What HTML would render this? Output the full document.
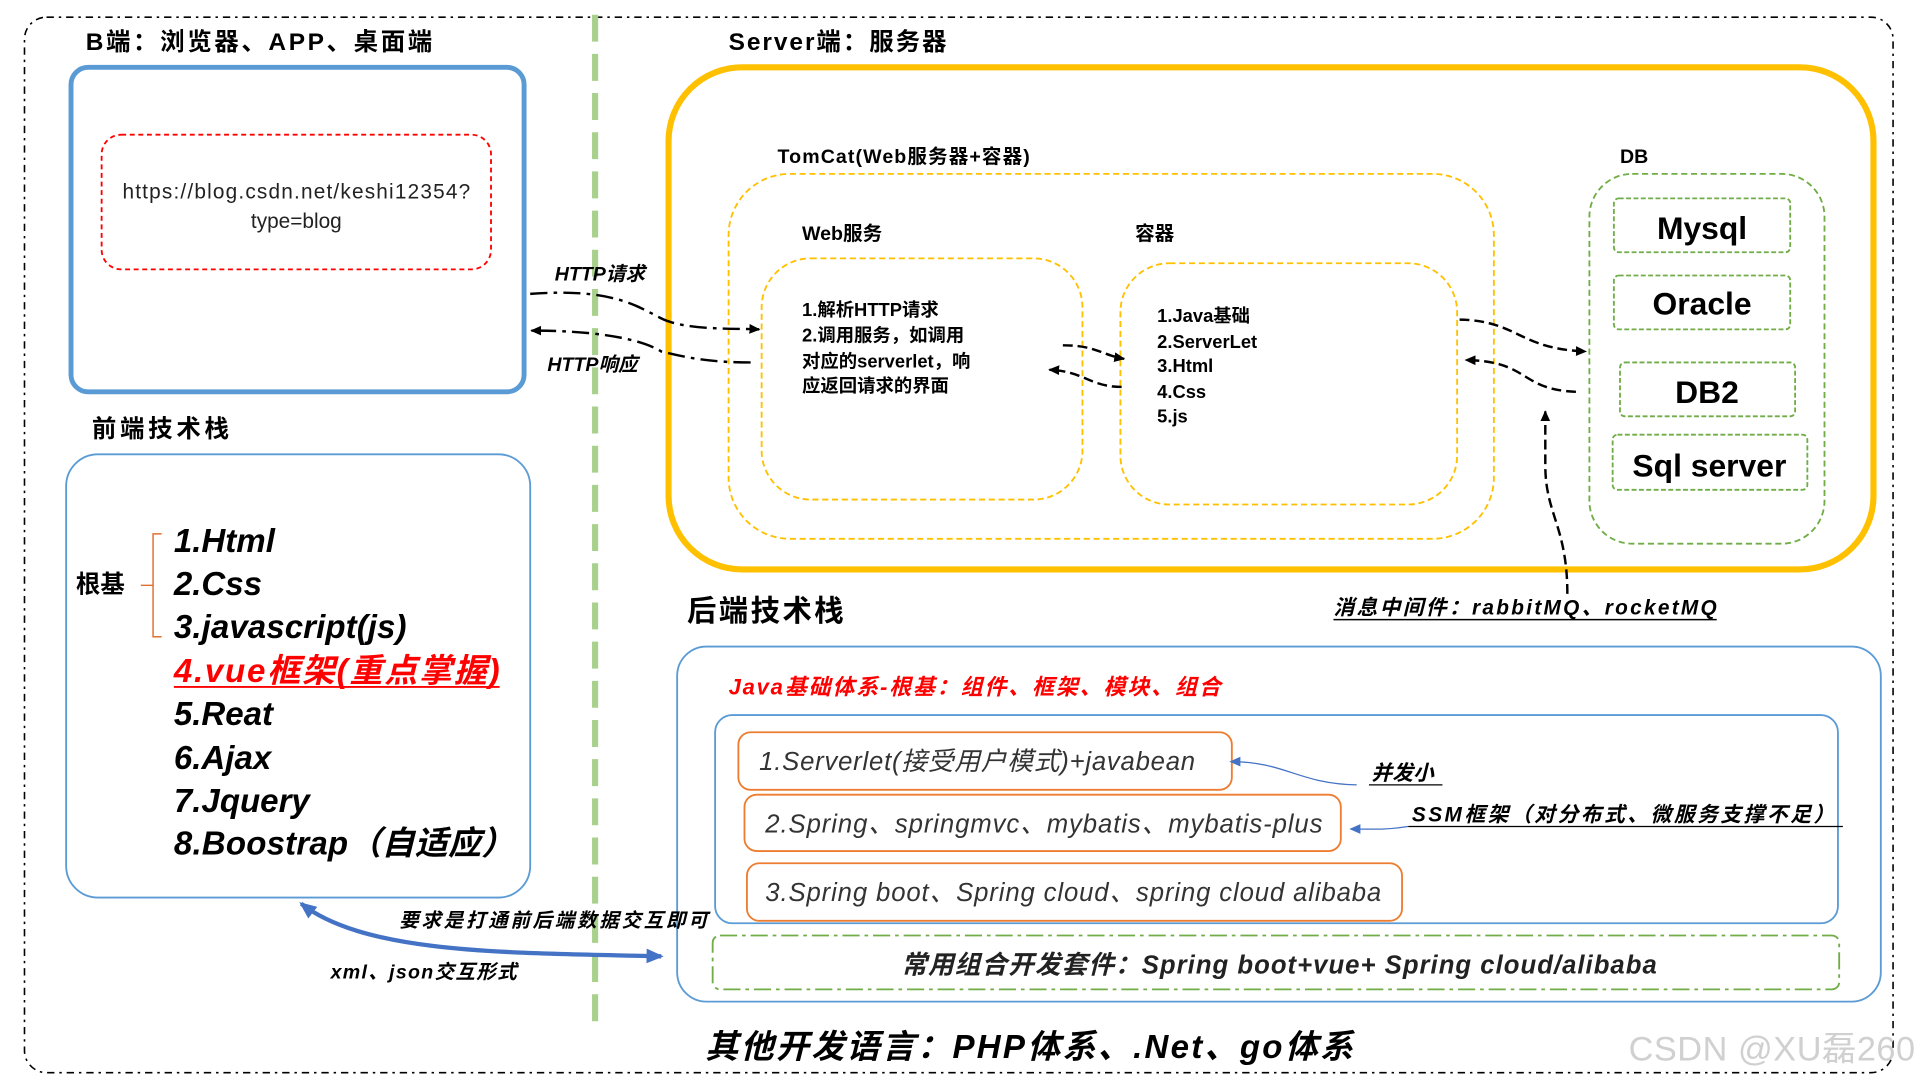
<!DOCTYPE html>
<html><head><meta charset="utf-8"><style>
html,body{margin:0;padding:0;background:#fff;width:1920px;height:1080px;overflow:hidden}
svg{display:block}
text{font-family:"Liberation Sans","Noto Sans CJK SC",sans-serif;}
.b{font-weight:bold}
.i{font-style:italic}
</style></head><body>
<svg width="1920" height="1080" viewBox="0 0 1568 882" xmlns="http://www.w3.org/2000/svg">
<defs>
<marker id="ah" markerWidth="10" markerHeight="10" refX="8" refY="5" orient="auto" markerUnits="userSpaceOnUse"><path d="M0,1 L9,5 L0,9 z" fill="#000"/></marker>
<marker id="ahb" markerWidth="10" markerHeight="10" refX="8" refY="5" orient="auto" markerUnits="userSpaceOnUse"><path d="M0,1 L9,5 L0,9 z" fill="#4472c4"/></marker>
<marker id="ahB" markerWidth="16" markerHeight="16" refX="12" refY="8" orient="auto-start-reverse" markerUnits="userSpaceOnUse"><path d="M0,2 L14,8 L0,14 z" fill="#4472c4"/></marker>
</defs>
<rect x="20" y="14" width="1526" height="862" rx="18" fill="none" stroke="#000" stroke-width="1.3" stroke-dasharray="6 4 2 4"/>
<line x1="486" y1="12" x2="486" y2="840" stroke="#a9d18e" stroke-width="5" stroke-dasharray="22 10"/>

<text x="70" y="41" font-size="20" class="b" textLength="283">B端：浏览器、APP、桌面端</text>
<text x="595" y="41" font-size="20" class="b" textLength="178">Server端：服务器</text>

<rect x="58" y="55" width="370" height="265" rx="14" fill="none" stroke="#5b9bd5" stroke-width="4"/>
<rect x="83" y="110" width="318" height="110" rx="16" fill="none" stroke="#ff0000" stroke-width="1.5" stroke-dasharray="4 3"/>
<text x="242" y="162" font-size="17" text-anchor="middle" fill="#222" textLength="284">https://blog.csdn.net/keshi12354?</text>
<text x="242" y="186" font-size="17" text-anchor="middle" fill="#222">type=blog</text>

<rect x="546" y="55" width="984" height="410" rx="60" fill="none" stroke="#ffc000" stroke-width="5"/>
<text x="635" y="133" font-size="16" class="b" textLength="206">TomCat(Web服务器+容器)</text>
<rect x="595" y="142" width="625" height="298" rx="50" fill="none" stroke="#ffc000" stroke-width="1.5" stroke-dasharray="5 3"/>
<text x="655" y="196" font-size="16" class="b">Web服务</text>
<text x="927" y="196" font-size="16" class="b">容器</text>
<rect x="622" y="211" width="262" height="197" rx="40" fill="none" stroke="#ffc000" stroke-width="1.5" stroke-dasharray="5 3"/>
<g font-size="15" class="b">
<text x="655" y="258">1.解析HTTP请求</text>
<text x="655" y="279">2.调用服务，如调用</text>
<text x="655" y="300">对应的serverlet，响</text>
<text x="655" y="320">应返回请求的界面</text>
</g>
<rect x="915" y="215" width="275" height="197" rx="40" fill="none" stroke="#ffc000" stroke-width="1.5" stroke-dasharray="5 3"/>
<g font-size="15" class="b">
<text x="945" y="263">1.Java基础</text>
<text x="945" y="284">2.ServerLet</text>
<text x="945" y="304">3.Html</text>
<text x="945" y="325">4.Css</text>
<text x="945" y="345">5.js</text>
</g>
<text x="1323" y="133" font-size="16" class="b">DB</text>
<rect x="1298" y="142" width="192" height="302" rx="35" fill="none" stroke="#70ad47" stroke-width="1.5" stroke-dasharray="5 3"/>
<g fill="none" stroke="#70ad47" stroke-width="1.5" stroke-dasharray="4 2">
<rect x="1318" y="162" width="144" height="44" rx="4"/>
<rect x="1318" y="225" width="144" height="44" rx="4"/>
<rect x="1323" y="296" width="143" height="44" rx="4"/>
<rect x="1317" y="355" width="159" height="45" rx="4"/>
</g>
<g font-size="26" text-anchor="middle" class="b">
<text x="1390" y="195">Mysql</text>
<text x="1390" y="257">Oracle</text>
<text x="1394" y="329">DB2</text>
<text x="1396" y="389">Sql server</text>
</g>

<text x="453" y="229" font-size="16" class="i b">HTTP请求</text>
<text x="447" y="303" font-size="16" class="i b">HTTP响应</text>
<path d="M433,240 C500,235 520,250 540,260 C560,270 600,268 620,269" fill="none" stroke="#000" stroke-width="2" stroke-dasharray="14 5 3 5" marker-end="url(#ah)"/>
<path d="M613,296 C580,296 560,292 540,287 C520,275 480,270 434,270" fill="none" stroke="#000" stroke-width="2" stroke-dasharray="14 5 3 5" marker-end="url(#ah)"/>
<path d="M868,282 C895,282 900,290 918,293" fill="none" stroke="#000" stroke-width="2" stroke-dasharray="8 4" marker-end="url(#ah)"/>
<path d="M916,316 C890,316 885,303 857,302" fill="none" stroke="#000" stroke-width="2" stroke-dasharray="8 4" marker-end="url(#ah)"/>
<path d="M1192,261 C1240,262 1240,285 1295,287" fill="none" stroke="#000" stroke-width="2" stroke-dasharray="8 4" marker-end="url(#ah)"/>
<path d="M1287,320 C1240,318 1250,295 1197,294" fill="none" stroke="#000" stroke-width="2" stroke-dasharray="8 4" marker-end="url(#ah)"/>
<path d="M1280,485 C1280,430 1262,420 1262,380 L1262,336" fill="none" stroke="#000" stroke-width="2" stroke-dasharray="8 4" marker-end="url(#ah)"/>
<text x="1089" y="502" font-size="17" class="i b" textLength="313">消息中间件：rabbitMQ、rocketMQ</text>
<line x1="1089" y1="506" x2="1402" y2="506" stroke="#000" stroke-width="1.2"/>

<text x="75" y="357" font-size="20" class="b" textLength="112">前端技术栈</text>
<rect x="54" y="371" width="379" height="362" rx="26" fill="none" stroke="#5b9bd5" stroke-width="1.5"/>
<text x="62" y="484" font-size="20" class="b">根基</text>
<path d="M132,436 L125,436 L125,520 L132,520 M125,478 L115,478" fill="none" stroke="#e07030" stroke-width="1.2"/>
<g font-size="27" class="i b">
<text x="142" y="451">1.Html</text>
<text x="142" y="486">2.Css</text>
<text x="142" y="521" textLength="190">3.javascript(js)</text>
<text x="142" y="557" fill="#ff0000" textLength="266">4.vue框架(重点掌握)</text>
<text x="142" y="592">5.Reat</text>
<text x="142" y="628">6.Ajax</text>
<text x="142" y="663">7.Jquery</text>
<text x="142" y="698" textLength="278">8.Boostrap（自适应）</text>
</g>
<line x1="142" y1="561" x2="408" y2="561" stroke="#ff0000" stroke-width="1.5"/>

<text x="561" y="507" font-size="24" class="b" textLength="128">后端技术栈</text>
<rect x="553" y="528" width="983" height="290" rx="24" fill="none" stroke="#5b9bd5" stroke-width="1.5"/>
<text x="595" y="567" font-size="18" class="i b" fill="#ff0000" textLength="402">Java基础体系-根基：组件、框架、模块、组合</text>
<rect x="584" y="584" width="917" height="170" rx="14" fill="none" stroke="#5b9bd5" stroke-width="1.5"/>
<g fill="none" stroke="#ed7d31" stroke-width="1.5">
<rect x="603" y="598" width="403" height="47" rx="10"/>
<rect x="608" y="649" width="487" height="46" rx="10"/>
<rect x="610" y="705" width="535" height="47" rx="10"/>
</g>
<g font-size="21" class="i" fill="#333">
<text x="620" y="629" textLength="356">1.Serverlet(接受用户模式)+javabean</text>
<text x="625" y="680" textLength="455">2.Spring、springmvc、mybatis、mybatis-plus</text>
<text x="625" y="736" textLength="503">3.Spring boot、Spring cloud、spring cloud alibaba</text>
</g>
<text x="1120" y="637" font-size="17" class="i b">并发小</text>
<line x1="1118" y1="641" x2="1178" y2="641" stroke="#000"/>
<path d="M1108,641 C1060,640 1050,622 1005,622" fill="none" stroke="#4472c4" stroke-width="1" marker-end="url(#ahb)"/>
<text x="1153" y="671" font-size="17" class="i b" textLength="345">SSM框架（对分布式、微服务支撑不足）</text>
<line x1="1150" y1="675" x2="1505" y2="675" stroke="#000"/>
<path d="M1150,675 C1130,678 1120,677 1103,677" fill="none" stroke="#4472c4" stroke-width="1" marker-end="url(#ahb)"/>
<rect x="582" y="764" width="920" height="44" rx="6" fill="none" stroke="#70ad47" stroke-width="1.5" stroke-dasharray="14 4 3 4"/>
<text x="736" y="795" font-size="21" class="i b" fill="#222" textLength="617">常用组合开发套件：Spring boot+vue+ Spring cloud/alibaba</text>

<path d="M246,738 C300,780 420,778 540,781" fill="none" stroke="#4472c4" stroke-width="3.5" marker-end="url(#ahB)" marker-start="url(#ahB)"/>
<text x="326" y="757" font-size="16" class="i b" textLength="252">要求是打通前后端数据交互即可</text>
<text x="270" y="799" font-size="16" class="i b" textLength="152">xml、json交互形式</text>

<text x="576" y="864" font-size="27" class="i b" textLength="529">其他开发语言：PHP体系、.Net、go体系</text>
<text x="1330" y="866" font-size="28" fill="#d0d0d0" textLength="234">CSDN @XU磊260</text>
</svg>
</body></html>
